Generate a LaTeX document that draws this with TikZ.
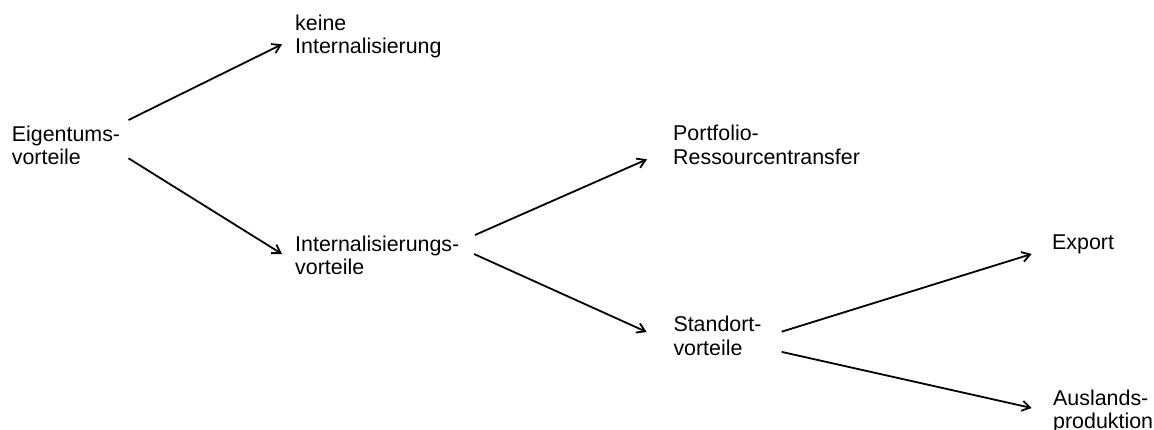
\documentclass[tikz,border=0pt]{standalone}
\usepackage{fontspec}
\setmainfont{Liberation Sans}
\usetikzlibrary{arrows.meta}
\begin{document}
\begin{tikzpicture}[x=1pt,y=1pt,
  lbl/.style={anchor=base west, inner sep=0pt, align=left,
    font=\fontsize{21.4}{23.4}\selectfont},
  arr/.style={line width=1.8pt, -{Straight Barb[length=8pt,width=10pt,line width=1.8pt]}}]
  \useasboundingbox (0,0) rectangle (1154,-430);
  % decision tree of the advantages (anchored at the last line's baseline)
  \node[lbl] (eig)    at (11.7,-165)    {Eigentums-\\vorteile};
  \node[lbl] (keine)  at (295,-54)      {keine\\Internalisierung};
  \node[lbl] (intv)   at (295,-274.5)   {Internalisierungs-\\vorteile};
  \node[lbl] (port)   at (673,-164.4)   {Portfolio-\\Ressourcentransfer};
  \node[lbl] (stand)  at (673.3,-355.4) {Standort-\\vorteile};
  \node[lbl] (export) at (1052,-250)    {Export};
  \node[lbl] (ausl)   at (1053,-428.5)  {Auslands-\\produktion};
  % branches
  \draw[arr] ([shift={(116.8,45)}]eig.base west)    -- ([shift={(-13,9.7)}]keine.base west);
  \draw[arr] ([shift={(116.8,6.7)}]eig.base west)   -- ([shift={(-13,20.5)}]intv.base west);
  \draw[arr] ([shift={(180,39.5)}]intv.base west)   -- ([shift={(-26,5.1)}]port.base west);
  \draw[arr] ([shift={(179,20.5)}]intv.base west)   -- ([shift={(-26.6,23.4)}]stand.base west);
  \draw[arr] ([shift={(108.4,23.7)}]stand.base west) -- ([shift={(-20.3,-4)}]export.base west);
  \draw[arr] ([shift={(108.4,3.5)}]stand.base west)  -- ([shift={(-21.3,20.5)}]ausl.base west);
\end{tikzpicture}
\end{document}
